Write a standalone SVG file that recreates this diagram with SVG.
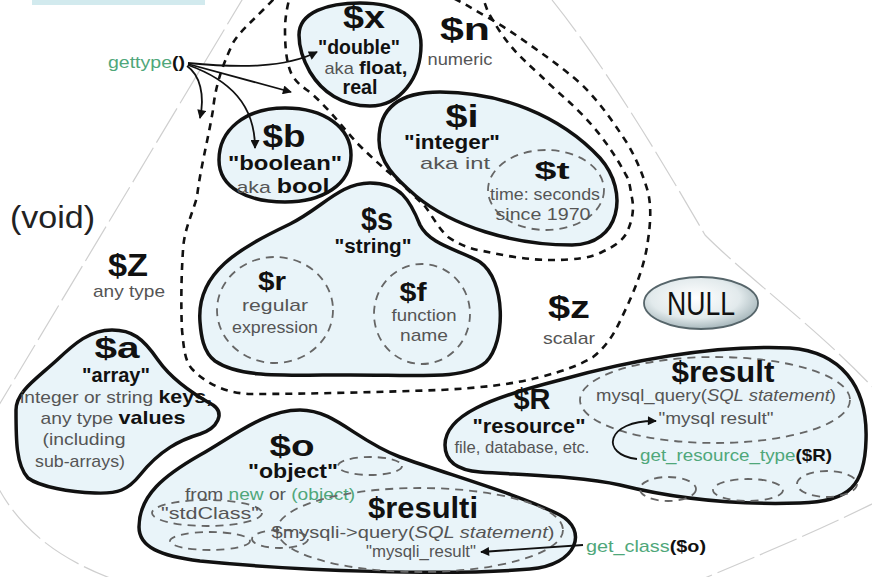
<svg xmlns="http://www.w3.org/2000/svg" width="872" height="577" viewBox="0 0 872 577">
<defs>
<style>
text{font-family:"Liberation Sans","DejaVu Sans",sans-serif}
.blob{fill:#e9f4f9;stroke:#111;stroke-width:3.5;stroke-linejoin:round}
.set{fill:none;stroke:#111;stroke-width:2.6;stroke-dasharray:7 6}
.sub{fill:none;stroke:#666;stroke-width:1.8;stroke-dasharray:8 6}
.faint{fill:none;stroke:#cfcfcf;stroke-width:1.2;stroke-dasharray:40 6}
.v{font-weight:bold;fill:#111;text-anchor:middle}
.q{font-weight:bold;font-size:20px;fill:#111;text-anchor:middle}
.g{font-size:17px;fill:#555;text-anchor:middle}
.b{font-weight:bold;fill:#111}
.gr{fill:#4fa77a}
.k{fill:#111}
.arr{fill:none;stroke:#111;stroke-width:1.8}
</style>
<marker id="ah" viewBox="0 0 10 10" refX="9" refY="5" markerWidth="11" markerHeight="9" markerUnits="userSpaceOnUse" orient="auto"><path d="M0,0 L10,5 L0,10 z" fill="#111"/></marker>
<radialGradient id="nullg" cx="0.45" cy="0.4" r="0.65">
<stop offset="0" stop-color="#ffffff"/><stop offset="0.6" stop-color="#e2eaec"/><stop offset="1" stop-color="#9aacb1"/>
</radialGradient>
</defs>
<rect width="872" height="577" fill="#fff"/>
<rect x="32" y="-20" width="173" height="25" fill="#d2eaee"/>

<g id="any">
<path class="faint" d="M248,-10 L-10,420"/>
<path class="faint" d="M-10,470 C10,520 50,555 110,578"/>
<path class="faint" d="M552,0 C600,60 650,140 705,235 C750,280 820,330 880,395"/>
<path class="faint" d="M880,500 C820,530 760,555 700,580"/>
<text x="10" y="228" font-size="32" fill="#222" textLength="85" lengthAdjust="spacingAndGlyphs">(void)</text>
<text class="v" x="128" y="276" font-size="32" textLength="40" lengthAdjust="spacingAndGlyphs">$Z</text>
<text class="g" x="129" y="297" font-size="16" textLength="72" lengthAdjust="spacingAndGlyphs">any type</text>
</g>

<g id="scalar">
<path class="set" d="M282,-10 C260,15 240,30 233,43 C220,70 215,90 213,110 C208,140 200,170 197,197 C192,215 184,230 183,250 C181,280 181,310 182,330 C184,350 185,362 193,370 C210,387 230,393 250,394 C310,394 380,392 440,390 C480,388 515,384 540,377 C565,371 582,364 593,357 C608,345 615,332 622,317 C635,290 645,265 648,240 C651,220 651,205 648,192 C643,175 637,160 627,143 C612,120 598,100 580,83 C565,70 555,63 547,57 C530,45 510,30 487,17 C475,10 465,4 453,-2 L440,-10"/>
<text class="v" x="569" y="318" font-size="32" textLength="42" lengthAdjust="spacingAndGlyphs">$z</text>
<text class="g" x="569" y="344" font-size="16" textLength="52" lengthAdjust="spacingAndGlyphs">scalar</text>
</g>

<g id="numeric">
<path class="set" d="M292,-10 C287,5 285,18 285,30 C285,50 287,65 292,75 C298,85 305,88 312,94 C330,110 345,130 357,143 C370,156 380,165 392,175 C405,187 415,197 424,205 C432,215 438,228 448,237 C460,245 470,249 483,251 C505,256 530,260 550,260 C575,260 590,258 602,252 C615,246 624,240 628,230 C633,218 634,208 632,198 C630,188 630,182 626,175 C618,160 610,148 600,135 C590,122 578,110 567,100 C558,92 548,83 540,75 C528,64 518,55 510,45 C500,33 494,22 488,12 L480,-10"/>
<text class="v" x="465" y="40" font-size="32" textLength="50" lengthAdjust="spacingAndGlyphs">$n</text>
<text class="g" x="460" y="65" font-size="16" textLength="65" lengthAdjust="spacingAndGlyphs">numeric</text>
</g>

<g id="double">
<path class="blob" d="M299,35 C299,12 328,3 360,3 C395,3 421,15 421,45 C421,78 400,106 370,106 C342,106 322,92 310,72 C302,58 299,46 299,35 Z"/>
<text class="v" x="364" y="28" font-size="32" textLength="42" lengthAdjust="spacingAndGlyphs">$x</text>
<text class="q" x="359" y="54" textLength="82" lengthAdjust="spacingAndGlyphs">"double"</text>
<text x="366" y="74" text-anchor="middle" textLength="83" lengthAdjust="spacingAndGlyphs"><tspan class="g" font-size="17">aka </tspan><tspan class="b" font-size="19">float,</tspan></text>
<text class="q" x="360" y="94" textLength="35" lengthAdjust="spacingAndGlyphs">real</text>
</g>

<g id="boolean">
<path class="blob" d="M219,160 C219,130 245,108 285,108 C325,108 351,128 351,155 C351,185 322,202 285,202 C248,202 219,188 219,160 Z"/>
<text class="v" x="284" y="147" font-size="32" textLength="43" lengthAdjust="spacingAndGlyphs">$b</text>
<text class="q" x="285" y="170" textLength="114" lengthAdjust="spacingAndGlyphs">"boolean"</text>
<text x="283" y="193" text-anchor="middle" textLength="93" lengthAdjust="spacingAndGlyphs"><tspan class="g" font-size="17">aka </tspan><tspan class="b" font-size="20">bool</tspan></text>
</g>

<g id="integer">
<path class="blob" d="M379,140 C379,106 402,92 440,92 C500,92 560,115 600,158 C630,192 620,245 572,245 C512,245 452,226 416,196 C395,178 379,162 379,140 Z"/>
<text class="v" x="462" y="127" font-size="32" textLength="33" lengthAdjust="spacingAndGlyphs">$i</text>
<text class="q" x="452" y="149" textLength="96" lengthAdjust="spacingAndGlyphs">"integer"</text>
<text class="g" x="455" y="169" textLength="70" lengthAdjust="spacingAndGlyphs">aka int</text>
<g id="time">
<ellipse class="sub" cx="546" cy="190" rx="58" ry="40"/>
<text class="v" x="552" y="179" font-size="24" textLength="35" lengthAdjust="spacingAndGlyphs">$t</text>
<text class="g" x="545" y="200" font-size="16" textLength="110" lengthAdjust="spacingAndGlyphs">time: seconds</text>
<text class="g" x="543" y="220" font-size="16" textLength="95" lengthAdjust="spacingAndGlyphs">since 1970</text>
</g>
</g>

<g id="string">
<path class="blob" d="M200,322 C196,272 240,248 290,224 C322,208 340,183 370,183 C400,183 410,200 420,225 C430,245 460,250 480,262 C506,280 506,342 486,362 C466,380 420,375 350,375 C280,375 240,378 215,361 C203,352 201,335 200,322 Z"/>
<text class="v" x="377" y="230" font-size="32" textLength="32" lengthAdjust="spacingAndGlyphs">$s</text>
<text class="q" x="373" y="253" textLength="77" lengthAdjust="spacingAndGlyphs">"string"</text>
<g id="regex">
<ellipse class="sub" cx="275" cy="310" rx="58" ry="53"/>
<text class="v" x="272" y="290" font-size="26" textLength="28" lengthAdjust="spacingAndGlyphs">$r</text>
<text class="g" x="275" y="311" textLength="66" lengthAdjust="spacingAndGlyphs">regular</text>
<text class="g" x="275" y="333" textLength="86" lengthAdjust="spacingAndGlyphs">expression</text>
</g>
<g id="function">
<ellipse class="sub" cx="422" cy="314" rx="48" ry="50"/>
<text class="v" x="413" y="301" font-size="26" textLength="27" lengthAdjust="spacingAndGlyphs">$f</text>
<text class="g" x="424" y="321" textLength="65" lengthAdjust="spacingAndGlyphs">function</text>
<text class="g" x="424" y="341" textLength="48" lengthAdjust="spacingAndGlyphs">name</text>
</g>
</g>

<g id="null">
<ellipse cx="701" cy="303" rx="57" ry="26" fill="url(#nullg)" stroke="#56656a" stroke-width="1.8"/>
<text x="701" y="315" text-anchor="middle" font-size="34" fill="#111" textLength="68" lengthAdjust="spacingAndGlyphs">NULL</text>
</g>

<g id="array">
<path class="blob" d="M57,360 C75,343 90,330 112,330 C132,330 143,338 158,360 C172,380 195,395 213,405 C225,413 218,428 200,434 C180,440 160,450 140,475 C128,490 118,494 95,493 C70,492 40,487 28,478 C16,465 16,440 16,410 C16,392 35,380 57,360 Z"/>
<text class="v" x="117" y="358" font-size="30" textLength="45" lengthAdjust="spacingAndGlyphs">$a</text>
<text class="q" x="116" y="382" textLength="68" lengthAdjust="spacingAndGlyphs">"array"</text>
<text x="116" y="403" text-anchor="middle" textLength="192" lengthAdjust="spacingAndGlyphs"><tspan class="g" font-size="17">integer or string </tspan><tspan class="b" font-size="19">keys,</tspan></text>
<text x="113" y="424" text-anchor="middle" textLength="145" lengthAdjust="spacingAndGlyphs"><tspan class="g" font-size="17">any type </tspan><tspan class="b" font-size="19">values</tspan></text>
<text class="g" x="84" y="445" textLength="83" lengthAdjust="spacingAndGlyphs">(including</text>
<text class="g" x="80" y="467" textLength="90" lengthAdjust="spacingAndGlyphs">sub-arrays)</text>
</g>

<g id="object">
<path class="blob" d="M139,527 C139,495 165,475 200,455 C235,435 265,410 300,410 C335,410 355,440 400,457 C450,475 520,495 560,515 C588,530 578,565 530,569 C450,576 300,571 200,561 C160,556 139,547 139,527 Z"/>
<text class="v" x="292" y="456" font-size="30" textLength="45" lengthAdjust="spacingAndGlyphs">$o</text>
<text class="q" x="293" y="478" textLength="90" lengthAdjust="spacingAndGlyphs">"object"</text>
<text x="270" y="500" text-anchor="middle" font-size="17" textLength="170" lengthAdjust="spacingAndGlyphs"><tspan fill="#555">from </tspan><tspan class="gr">new</tspan><tspan fill="#555"> or </tspan><tspan class="gr">(object)</tspan></text>
<ellipse class="sub" cx="370" cy="466" rx="32" ry="9"/>
<ellipse class="sub" cx="207" cy="513" rx="55" ry="13"/>
<ellipse class="sub" cx="210" cy="541" rx="40" ry="9"/>
<ellipse class="sub" cx="280" cy="539" rx="28" ry="9"/>
<text class="g" x="210" y="519" textLength="98" lengthAdjust="spacingAndGlyphs">"stdClass"</text>
<g id="resulti">
<ellipse class="sub" cx="420" cy="530" rx="143" ry="42"/>
<text class="v" x="423" y="518" font-size="30" textLength="110" lengthAdjust="spacingAndGlyphs">$resulti</text>
<text class="g" x="413" y="538" textLength="283" lengthAdjust="spacingAndGlyphs">$mysqli-&gt;query(<tspan font-style="italic">SQL statement</tspan>)</text>
<text class="g" x="421" y="557" textLength="110" lengthAdjust="spacingAndGlyphs">"mysqli_result"</text>
</g>
</g>

<g id="resource">
<path class="blob" d="M445,445 C445,415 490,398 560,380 C640,358 720,345 790,348 C840,352 868,385 866,440 C865,485 850,502 800,503 C740,505 680,500 620,485 C580,476 520,475 480,472 C455,470 445,460 445,445 Z"/>
<text class="v" x="532" y="409" font-size="30" textLength="37" lengthAdjust="spacingAndGlyphs">$R</text>
<text class="q" x="529" y="433" textLength="113" lengthAdjust="spacingAndGlyphs">"resource"</text>
<text class="g" x="522" y="453" textLength="135" lengthAdjust="spacingAndGlyphs">file, database, etc.</text>
<ellipse class="sub" cx="668" cy="489" rx="28" ry="12"/>
<ellipse class="sub" cx="748" cy="490" rx="35" ry="11"/>
<ellipse class="sub" cx="827" cy="484" rx="30" ry="13"/>
<g id="result">
<ellipse class="sub" cx="715" cy="400" rx="135" ry="43"/>
<text class="v" x="723" y="382" font-size="30" textLength="103" lengthAdjust="spacingAndGlyphs">$result</text>
<text class="g" x="716" y="401" textLength="240" lengthAdjust="spacingAndGlyphs">mysql_query(<tspan font-style="italic">SQL statement</tspan>)</text>
<text class="g" x="716" y="424" textLength="115" lengthAdjust="spacingAndGlyphs">"mysql result"</text>
</g>
</g>

<g id="gettype">
<text x="108" y="68" font-size="16" textLength="77" lengthAdjust="spacingAndGlyphs"><tspan class="gr">gettype</tspan><tspan class="k" font-weight="bold">()</tspan></text>
</g>
<g id="getclass">
<text x="586" y="552" font-size="17" textLength="120" lengthAdjust="spacingAndGlyphs"><tspan class="gr">get_class</tspan><tspan class="k" font-weight="bold">($o)</tspan></text>
</g>
<g id="getrestype">
<text x="640" y="461" font-size="17" textLength="192" lengthAdjust="spacingAndGlyphs"><tspan class="gr">get_resource_type</tspan><tspan class="k" font-weight="bold">($R)</tspan></text>
</g>

<g id="connectors">
<path class="arr" marker-end="url(#ah)" d="M188,63 C240,68 285,68 317,52"/>
<path class="arr" marker-end="url(#ah)" d="M188,64 L291,92"/>
<path class="arr" marker-end="url(#ah)" d="M188,65 C230,80 255,105 255,148"/>
<path class="arr" marker-end="url(#ah)" d="M187,66 C200,75 205,95 200,118"/>
<path class="arr" marker-end="url(#ah)" d="M583,545 L481,552"/>
<path class="arr" marker-end="url(#ah)" d="M637,459 C600,455 605,420 656,421"/>
</g>
</svg>
